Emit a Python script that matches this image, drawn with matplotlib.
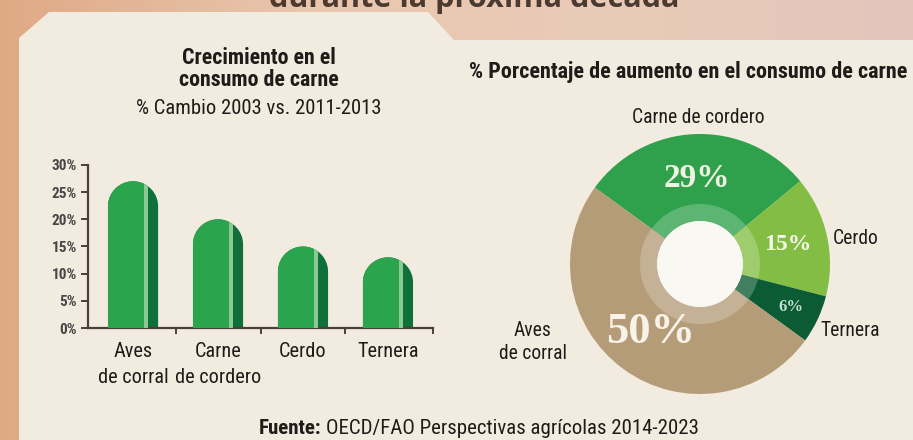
import numpy as np
import matplotlib.pyplot as plt
import matplotlib.colors as mcolors
from matplotlib import font_manager as fm
from matplotlib.patches import Polygon, PathPatch, Circle
from matplotlib.path import Path

W, H = 913, 440

# left chart: meat consumption growth, % change 2003 vs 2011-2013
bar_labels = ['Aves\nde corral', 'Carne\nde cordero', 'Cerdo', 'Ternera']
bar_values = [27, 20, 15, 13]
y_ticks = [0, 5, 10, 15, 20, 25, 30]

# right chart: share of the increase in meat consumption
pie_labels = ['Carne de cordero', 'Cerdo', 'Ternera', 'Aves\nde corral']
pie_values = [29, 15, 6, 50]
pie_colors = ['#2FA04B', '#84BD44', '#0B5B34', '#B59C78']

# pick a condensed sans if one is installed, else Roboto
NARROW = dict(family=['Roboto', 'DejaVu Sans'], stretch='normal')
cond = [f for f in fm.fontManager.ttflist
        if f.stretch in ('condensed', 'semi-condensed', 'extra-condensed')]
for pref in ['Roboto Condensed', 'Liberation Sans Narrow', 'Open Sans', 'Noto Sans',
             'DejaVu Sans']:
    hit = [f for f in cond if f.name == pref]
    if hit:
        NARROW = dict(family=[pref, 'DejaVu Sans'], stretch=hit[0].stretch)
        break
else:
    if cond:
        NARROW = dict(family=[cond[0].name, 'DejaVu Sans'], stretch=cond[0].stretch)

SERIF = ['Liberation Serif', 'DejaVu Serif']
INK = '#1E1B18'
AXIS = '#4B4038'


def fx(x):
    return x / W


def fy(y):
    return 1 - y / H


fig = plt.figure(figsize=(W / 100, H / 100), dpi=100)
renderer = fig.canvas.get_renderer()


def fit(t, target_px, max_size=None):
    # scale the font so the text spans about target_px pixels
    w = t.get_window_extent(renderer).width
    size = t.get_fontsize() * target_px / w
    if max_size:
        size = min(size, max_size)
    t.set_fontsize(size)
    return size


# background: photo-ish peach gradient + cream panel
bg = fig.add_axes([0, 0, 1, 1])
bg.set_xlim(0, W)
bg.set_ylim(H, 0)
bg.axis('off')
grad = mcolors.LinearSegmentedColormap.from_list(
    'peach', ['#DFA985', '#E9C6AE', '#EACBB8', '#E3C5BC'])
bg.imshow(np.linspace(0, 1, 256)[None, :], cmap=grad, aspect='auto',
          extent=[0, W, H, 0], zorder=0)
panel = Polygon([(19, H), (19, 38), (49, 12), (428, 12), (454, 40), (W, 40), (W, H)],
                closed=True, facecolor='#F2EBDF', edgecolor='none', zorder=1)
bg.add_patch(panel)
head = bg.text(474, 7, 'durante la próxima década', ha='center', va='baseline',
               fontsize=22, fontweight='bold', family=['Open Sans', 'DejaVu Sans'],
               color='#4A3A30', zorder=0.5)
fit(head, 409)

# titles
t1 = fig.text(fx(259), fy(58), 'Crecimiento en el', ha='center', va='center',
              fontsize=14, fontweight='bold', color=INK, **NARROW)
fit(t1, 155, 17)
t2 = fig.text(fx(259), fy(80), 'consumo de carne', ha='center', va='center',
              fontsize=14, fontweight='bold', color=INK, **NARROW)
t2.set_fontsize(t1.get_fontsize())
t3 = fig.text(fx(259), fy(108), '% Cambio 2003 vs. 2011-2013', ha='center', va='center',
              fontsize=14, color=INK, **NARROW)
fit(t3, 247, 17)
t4 = fig.text(fx(688), fy(72), '% Porcentaje de aumento en el consumo de carne',
              ha='center', va='center', fontsize=15, fontweight='bold',
              color=INK, **NARROW)
fit(t4, 439, 16)

# ---- bar chart ----
ax = fig.add_axes([fx(88), fy(328), (433 - 88) / W, 163 / H])
ax.patch.set_alpha(0)
x = np.arange(len(bar_values))
xmin, xmax = -0.53, 3.53
ax.set_xlim(xmin, xmax)
ax.set_ylim(0, 30)
for s in ['top', 'right']:
    ax.spines[s].set_visible(False)
for s in ['left', 'bottom']:
    ax.spines[s].set_color(AXIS)
    ax.spines[s].set_linewidth(1.6)

px_x = (433 - 88) / (xmax - xmin)
px_y = 163 / 30
bw = 0.59
ry = (bw / 2) * px_x / px_y
t = np.linspace(np.pi, 0, 40)
for xi, v in zip(x, bar_values):
    top = v - ry
    verts = [(xi - bw / 2, 0), (xi - bw / 2, top)]
    verts += list(zip(xi + bw / 2 * np.cos(t), top + ry * np.sin(t)))
    verts += [(xi + bw / 2, 0), (xi - bw / 2, 0)]
    shape = PathPatch(Path(verts), facecolor='#10703A', edgecolor='none', zorder=2)
    ax.add_patch(shape)
    main = ax.bar(xi - bw / 2, v, width=bw * 0.72, align='edge', color='#2AA54E', zorder=3)
    stripe = ax.bar(xi - bw / 2 + bw * 0.72, v, width=bw * 0.07, align='edge',
                    color='#8BC993', zorder=3)
    for b in list(main) + list(stripe):
        b.set_clip_path(shape)

# sizes for the small texts, fitted on one sample each
probe = fig.text(0, 0, '30%', fontsize=10, fontweight='bold', **NARROW)
tick_size = fit(probe, 31, 11)
probe.remove()
probe = fig.text(0, 0, 'de cordero', fontsize=13, **NARROW)
cat_size = fit(probe, 86, 15.5)
probe.remove()

ax.set_yticks(y_ticks)
ax.set_yticklabels([f'{v}%' for v in y_ticks], fontsize=tick_size, fontweight='bold',
                   color='#4A4646', **NARROW)
ax.tick_params(axis='y', direction='out', length=5, width=1.4, color=AXIS, pad=3)
ax.set_xticks(x)
ax.set_xticklabels(bar_labels, fontsize=cat_size, color=INK, linespacing=1.45, **NARROW)
ax.tick_params(axis='x', which='major', length=0, pad=10)
ax.set_xticks([0.5, 1.5, 2.5, xmax], minor=True)
ax.tick_params(axis='x', which='minor', direction='out', length=4, width=1.4, color=AXIS)

# ---- donut chart ----
ax2 = fig.add_axes([fx(550), fy(414), 300 / W, 300 / H])
wedges, _ = ax2.pie(pie_values, colors=pie_colors, startangle=144, counterclock=False,
                    radius=1.3, wedgeprops=dict(width=0.87, linewidth=0))
light = [tuple(0.78 * np.array(mcolors.to_rgb(c)) + 0.22) for c in pie_colors]
ax2.pie(pie_values, colors=light, startangle=144, counterclock=False,
        radius=0.60, wedgeprops=dict(width=0.17, linewidth=0))
ax2.add_patch(Circle((0, 0), 0.43, facecolor='#FAF8F3', edgecolor='none', zorder=5))
ax2.set_xlim(-1.5, 1.5)
ax2.set_ylim(-1.5, 1.5)
ax2.set_aspect('equal')
ax2.axis('off')

pct_style = [(0.86, 24, '#EEF3E2'), (0.9, 17, '#F4F8EA'),
             (1.0, 12, '#BFE0D2'), (0.84, 32, '#F8F2E8')]
for w, val, (r, fs, col) in zip(wedges, pie_values, pct_style):
    mid = np.deg2rad((w.theta1 + w.theta2) / 2)
    ax2.text(r * np.cos(mid), r * np.sin(mid), f'{val}%', ha='center', va='center',
             fontsize=fs, fontweight='bold', family=SERIF, color=col, zorder=6)

lab = ax2.text(-0.02, 1.47, pie_labels[0], ha='center', va='center', fontsize=13.5,
               color=INK, **NARROW)
lab_size = fit(lab, 132, 15)
ax2.text(1.33, 0.26, pie_labels[1], ha='left', va='center', fontsize=lab_size,
         color=INK, **NARROW)
ax2.text(1.2, -0.66, pie_labels[2], ha='left', va='center', fontsize=lab_size,
         color=INK, **NARROW)
ax2.text(-1.67, -0.78, pie_labels[3], ha='center', va='center', fontsize=lab_size,
         color=INK, linespacing=1.3, **NARROW)

# source
f1 = fig.text(fx(321), fy(428), 'Fuente:', ha='right', va='center', fontsize=13,
              fontweight='bold', color=INK, **NARROW)
f2 = fig.text(fx(326), fy(428), 'OECD/FAO Perspectivas agrícolas 2014-2023', ha='left',
              va='center', fontsize=13, color=INK, **NARROW)
src_size = fit(f2, 371, 15)
f1.set_fontsize(src_size)

fig.savefig('out.png', dpi=100)
